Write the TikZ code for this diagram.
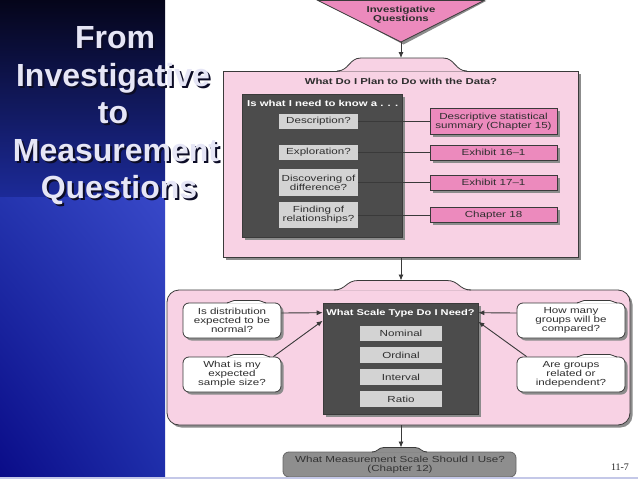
\documentclass[tikz,border=0pt]{standalone}
\usepackage{fontspec}
\setmainfont{Liberation Sans}
\newfontfamily\dgfont[FakeStretch=1.32]{Liberation Sans}
\newfontfamily\numfont{Liberation Serif}
\usetikzlibrary{shadows,shadings,arrows.meta}
\definecolor{panelpink}{HTML}{F8D2E4}
\definecolor{boxpink}{HTML}{EC8ABD}
\definecolor{darkbox}{HTML}{4C4C4C}
\definecolor{greybox}{HTML}{D3D3D3}
\definecolor{edgecol}{HTML}{3A3A3A}
\definecolor{txt}{HTML}{2E2E2E}
\definecolor{titlecol}{HTML}{E6E6F6}
\definecolor{titleshade}{HTML}{0C0C26}
\definecolor{lastgrey}{HTML}{8E8E8E}
\definecolor{bandcol}{HTML}{C4C8E8}
\definecolor{navytop}{HTML}{05051A}
\definecolor{navymid}{HTML}{1C2A98}
\definecolor{blueUL}{HTML}{2434AE}
\definecolor{blueUR}{HTML}{3848C8}
\definecolor{blueLL}{HTML}{0A0C88}
\definecolor{blueLR}{HTML}{1E2EAA}
% hump on top of a box: #1 left x, #2 right x, #3 base y, #4 height, #5 fill, #6 flare width
\newcommand\hump[6]{%
  \fill[#5] (#1,#3+0.7) .. controls (#1+#6/2,#3+0.7) and (#1+#6/2,#3-#4) .. (#1+#6,#3-#4) -- (#2-#6,#3-#4) .. controls (#2-#6/2,#3-#4) and (#2-#6/2,#3+0.7) .. (#2,#3+0.7) -- cycle;
  \draw[edgecol, line width=0.8] (#1,#3) .. controls (#1+#6/2,#3) and (#1+#6/2,#3-#4) .. (#1+#6,#3-#4) -- (#2-#6,#3-#4) .. controls (#2-#6/2,#3-#4) and (#2-#6/2,#3) .. (#2,#3);}
\newcommand\shd[1]{\rlap{\kern2pt\raisebox{-2pt}{\textcolor{titleshade}{#1}}}#1}
\begin{document}
\begin{tikzpicture}[x=1pt,y=-1pt,
  ttl/.style={font=\bfseries\fontsize{32}{36}\selectfont, text=titlecol, anchor=base, inner sep=0},
  reg/.style={font=\dgfont\fontsize{8.8}{8.8}\selectfont, text=txt, align=center, inner sep=1},
  bld/.style={font=\dgfont\bfseries\fontsize{8.6}{8.8}\selectfont, text=txt, align=center, inner sep=1},
  sh/.style={drop shadow={shadow xshift=2.5pt, shadow yshift=-2.5pt, fill=black!45, opacity=1}},
  gb/.style={reg, fill=greybox, minimum width=79},
  gb2/.style={reg, fill=greybox, minimum width=82, minimum height=15.5},
  pb/.style={reg, fill=boxpink, draw=edgecol, line width=0.8, minimum width=127, sh},
  cb/.style={reg, fill=white, draw=edgecol, line width=0.8, rounded corners=6, minimum height=35, sh},
  dk/.style={fill=darkbox, draw=edgecol, line width=0.6, sh},
  arr/.style={-{Latex[length=6pt,width=5pt]}, draw=edgecol, line width=0.9},
  ln/.style={draw=edgecol, line width=0.8}]
\useasboundingbox (0,0) rectangle (638,479);
\fill[white] (0,0) rectangle (638,479);
% left panel
\shade[top color=navytop, bottom color=navymid] (0,0) rectangle (165,197);
\shade[upper left=blueUL, upper right=blueUR, lower left=blueLL, lower right=blueLR] (0,197) rectangle (165,477);
% title
\node[ttl] (t1) at (115,48.5) {\shd{From}};
\node[ttl] (t2) at (113,86) {\shd{Investigative}};
\node[ttl] (t3) at (113,123.5) {\shd{to}};
\node[ttl] (t4) at (116,161) {\shd{Measurement}};
\node[ttl] (t5) at (119,198.5) {\shd{Questions}};
% triangle
\fill[black!45] (320.5,0.8) -- (486.5,0.8) -- (403.5,44.5) -- cycle;
\filldraw[fill=boxpink, draw=edgecol, line width=0.8] (318,0.5) -- (484,0.5) -- (401,42) -- cycle;
\node[bld] (inv) at (401,15) {Investigative\\Questions};
\coordinate (apex) at (401,42);
% panel 1
\filldraw[fill=panelpink, draw=edgecol, line width=0.8, sh] (223,71) rectangle (578,257);
\hump{337}{467}{71}{13}{panelpink}{24}
\coordinate (p1top) at (401,58);
\coordinate (p1bot) at (401,257);
\draw[arr] (apex) -- (p1top);
\node[bld] (p1t) at (401,81) {What Do I Plan to Do with the Data?};
\node[dk, minimum width=160, minimum height=143] (db1) at (322,165.5) {};
\node[bld, text=white, anchor=west] (hdr) at (246,103) {Is what I need to know a . . .};
\node[gb, minimum height=15] (g1) at (318.5,121.5) {Description?};
\node[gb, minimum height=15] (g2) at (318.5,152.5) {Exploration?};
\node[gb, minimum height=27] (g3) at (318.5,182.5) {Discovering of\\difference?};
\node[gb, minimum height=26] (g4) at (318.5,215) {Finding of\\relationships?};
\node[pb, minimum height=26] (r1) at (493.5,121.5) {Descriptive statistical\\summary (Chapter 15)};
\node[pb, minimum height=15] (r2) at (493.5,152.5) {Exhibit 16–1};
\node[pb, minimum height=15] (r3) at (493.5,182.5) {Exhibit 17–1};
\node[pb, minimum height=15] (r4) at (493.5,215) {Chapter 18};
\draw[ln] (g1.east) -- (r1.west);
\draw[ln] (g2.east) -- (r2.west);
\draw[ln] (g3.east) -- (r3.west);
\draw[ln] (g4.east) -- (r4.west);
% panel 2
\filldraw[fill=panelpink, draw=edgecol, line width=0.8, sh, rounded corners=12] (167,290) rectangle (630,425);
\hump{334}{471}{290}{9.5}{panelpink}{24}
\coordinate (p2top) at (401,280.5);
\coordinate (p2bot) at (401,425);
\draw[arr] (p1bot) -- (p2top);
\node[dk, minimum width=155, minimum height=111] (db2) at (400.5,358.5) {};
\node[bld, text=white, font=\dgfont\bfseries\fontsize{8.4}{8.8}\selectfont] (st) at (400.5,313) {What Scale Type Do I Need?};
\node[gb2] (n1) at (401,333.5) {Nominal};
\node[gb2] (n2) at (401,355) {Ordinal};
\node[gb2] (n3) at (401,377) {Interval};
\node[gb2] (n4) at (401,399) {Ratio};
\node[cb, minimum width=98] (l1) at (232,320.5) {Is distribution\\expected to be\\normal?};
\node[cb, minimum width=98] (l2) at (232,374.5) {What is my\\expected\\sample size?};
\node[cb, minimum width=108] (q1) at (571,320.5) {How many\\groups will be\\compared?};
\node[cb, minimum width=108] (q2) at (571,374.5) {Are groups\\related or\\independent?};
\hump{227}{266}{303}{2.5}{white}{7}
\hump{227}{270}{357}{2.5}{white}{7}
\hump{577}{617}{303}{2.5}{white}{7}
\hump{577}{617}{357}{2.5}{white}{7}
\draw[arr] ([yshift=7.5pt]l1.east) -- ([yshift=-10pt]db2.north west);
\draw[arr] ([xshift=-8pt]l2.north east) -- ([yshift=-18pt]db2.north west);
\draw[arr] ([yshift=7.5pt]q1.west) -- ([yshift=-10pt]db2.north east);
\draw[arr] ([xshift=10pt]q2.north west) -- ([yshift=-19pt]db2.north east);
% last node
\filldraw[fill=lastgrey, draw=black!60, line width=0.8, rounded corners=6] (283,452) rectangle (516,477);
\hump{372}{427}{452}{4.5}{lastgrey}{12}
\coordinate (lasttop) at (401,447.5);
\node[reg, text=black!80] (last) at (400,464.5) {What Measurement Scale Should I Use?\\(Chapter 12)};
\draw[arr] (p2bot) -- (lasttop);
\node[font=\numfont\fontsize{10}{10}\selectfont, text=black!85] (pg) at (620,467) {11-7};
\fill[bandcol] (0,477.3) rectangle (638,479);
\end{tikzpicture}
\end{document}
